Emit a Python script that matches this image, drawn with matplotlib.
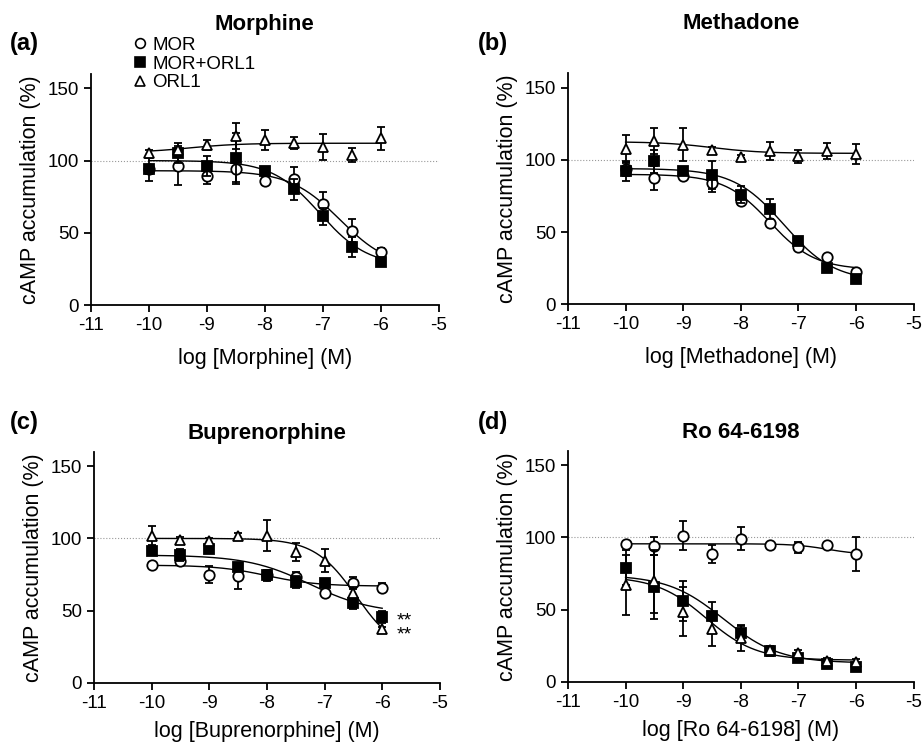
import numpy as np
import matplotlib
matplotlib.use("Agg")
import matplotlib.pyplot as plt
from matplotlib.lines import Line2D

plt.rcParams['font.family'] = ['Liberation Sans', 'DejaVu Sans']
plt.rcParams['axes.unicode_minus'] = False

# log concentrations (M)
log_conc = [-10, -9.5, -9, -8.5, -8, -7.5, -7, -6.5, -6]

# (a) Morphine
morph_mor = [94, 96, 89, 94, 86, 87.5, 70, 51.5, 36.5]
morph_mor_err = [3, 13, 5, 10, 3, 8, 8, 8, 3]
morph_mix = [94, 105, 96, 102, 93, 80, 61.5, 40, 29.5]
morph_mix_err = [8, 7, 7, 17, 2, 7, 6, 7, 2]
morph_orl = [105.5, 107, 111, 117, 114, 112, 109.5, 104, 115.5]
morph_orl_err = [2, 3, 3.5, 9, 7, 4, 9, 5, 8]

# (b) Methadone
meth_mor = [93.5, 87.5, 88.5, 84, 71.5, 56.5, 40, 32.5, 22.5]
meth_mor_err = [5, 8.5, 2, 6, 3, 2, 2, 1, 1]
meth_mix = [92.5, 99, 92, 89.5, 76, 66, 44, 25, 17.5]
meth_mix_err = [7, 8, 2, 10, 6, 7, 2, 1, 1]
meth_orl = [107.5, 113, 110.5, 107, 102, 106, 102.5, 106, 104]
meth_orl_err = [10, 9, 11.5, 2, 1, 6, 4.5, 5.5, 7]

# (c) Buprenorphine
bup_mor = [81.5, 84.5, 75, 74, 74.5, 73.5, 62, 69, 66]
bup_mor_err = [2, 3, 6, 9, 2, 3, 2, 4, 3]
bup_mix = [91.5, 88.5, 92.5, 80.5, 74.5, 70, 69, 55.5, 45.5]
bup_mix_err = [3, 4, 2, 2, 4, 4, 2, 4, 4]
bup_orl = [102, 99, 98, 101.5, 102, 90.5, 84.5, 62.5, 37]
bup_orl_err = [6.5, 2, 2, 2, 10.5, 6, 8, 4, 2]

# (d) Ro 64-6198
ro_mor = [95.5, 94, 101, 88.5, 99, 94.5, 93, 95, 88.5]
ro_mor_err = [2, 6, 10, 6, 8, 1, 4, 1, 12]
ro_mix = [79, 65.5, 56, 45.5, 33.5, 21, 16.5, 12.5, 10.5]
ro_mix_err = [12, 22, 14, 10, 5, 3, 2, 2, 2]
ro_orl = [67, 69.5, 48.5, 36.5, 30, 22, 20, 14.5, 13.5]
ro_orl_err = [21, 22, 17, 11.5, 9, 3, 2, 2, 2]

# fitted sigmoid parameters: top, bottom, logIC50, hill
fits = {
    'a': [(93, 25, -6.7, 1.0), (100, 27, -7.05, 1.05), (105.5, 112, -9.3, 1.0)],
    'b': [(90, 24, -7.5, 1.1), (94, 16, -7.25, 1.0), (112.5, 104.5, -8.5, 1.0)],
    'c': [(81.5, 67, -8.0, 1.0), (88.5, 48, -7.25, 0.8), (100, 20, -6.45, 1.2)],
    'd': [(95.5, 88, -6.5, 1.5), (74, 13, -8.3, 0.9), (73, 15, -8.6, 1.0)],
}

panels = [
    ('a', 'Morphine', 'log [Morphine] (M)',
     [(morph_mor, morph_mor_err), (morph_mix, morph_mix_err), (morph_orl, morph_orl_err)]),
    ('b', 'Methadone', 'log [Methadone] (M)',
     [(meth_mor, meth_mor_err), (meth_mix, meth_mix_err), (meth_orl, meth_orl_err)]),
    ('c', 'Buprenorphine', 'log [Buprenorphine] (M)',
     [(bup_mor, bup_mor_err), (bup_mix, bup_mix_err), (bup_orl, bup_orl_err)]),
    ('d', 'Ro 64-6198', 'log [Ro 64-6198] (M)',
     [(ro_mor, ro_mor_err), (ro_mix, ro_mix_err), (ro_orl, ro_orl_err)]),
]

labels = ['MOR', 'MOR+ORL1', 'ORL1']
markers = ['o', 's', '^']
faces = ['white', 'black', 'white']

positions = {
    'a': [0.0987, 0.591, 0.377, 0.310],
    'b': [0.616, 0.592, 0.375, 0.310],
    'c': [0.102, 0.0845, 0.375, 0.310],
    'd': [0.616, 0.086, 0.375, 0.310],
}
title_y = {'a': 1.215, 'b': 1.215, 'c': 1.08, 'd': 1.08}
letter_xy = {'a': (0.011, 0.942), 'b': (0.518, 0.942), 'c': (0.011, 0.433), 'd': (0.518, 0.433)}
xlabel_pad = {'a': 10, 'b': 10, 'c': 7, 'd': 7}

fig = plt.figure(figsize=(9.22, 7.46), dpi=100)
xs = np.linspace(-10, -6, 200)

for key, title, xlabel, series in panels:
    ax = fig.add_axes(positions[key])
    ax.axhline(100, color='#999999', lw=0.8, ls=':', zorder=0)
    for i, (vals, errs) in enumerate(series):
        top, bottom, ic50, h = fits[key][i]
        curve = bottom + (top - bottom) / (1 + 10 ** ((xs - ic50) * h))
        ax.plot(xs, curve, color='black', lw=1.0, zorder=2)
        ax.errorbar(log_conc, vals, yerr=errs, fmt=markers[i], color='black',
                    mfc=faces[i], mec='black', mew=1.3, ms=7.5 if i != 1 else 7,
                    elinewidth=1.3, capsize=3, capthick=1.3, zorder=3 + i)
    ax.set_xlim(-11, -5)
    ax.set_ylim(0, 160)
    ax.set_xticks([-11, -10, -9, -8, -7, -6, -5])
    ax.set_yticks([0, 50, 100, 150])
    for s in ['top', 'right']:
        ax.spines[s].set_visible(False)
    for s in ['left', 'bottom']:
        ax.spines[s].set_linewidth(1.3)
    ax.tick_params(direction='out', length=5, width=1.3, labelsize=13.5)
    ax.set_xlabel(xlabel, fontsize=15.5, labelpad=xlabel_pad[key])
    ax.set_ylabel('cAMP accumulation (%)', fontsize=15.5, labelpad=5)
    ax.text(0.5, title_y[key], title, transform=ax.transAxes, ha='center',
            va='center', fontsize=16, fontweight='bold')
    fig.text(letter_xy[key][0], letter_xy[key][1], '(%s)' % key, fontsize=17,
             fontweight='bold', va='center')
    if key == 'a':
        handles = [Line2D([], [], ls='none', marker=markers[j], mfc=faces[j],
                          mec='black', mew=1.2, ms=7 if j != 1 else 6.5)
                   for j in range(3)]
        ax.legend(handles, labels, loc='upper left', bbox_to_anchor=(0.125, 1.16),
                  frameon=False, fontsize=13.5, handlelength=0.6,
                  handletextpad=0.35, labelspacing=0.08, borderpad=0,
                  borderaxespad=0)
    if key == 'c':
        ax.text(-5.74, 38, '**\n**', fontsize=14, va='center', linespacing=0.75)

fig.savefig('out.png', dpi=100)
